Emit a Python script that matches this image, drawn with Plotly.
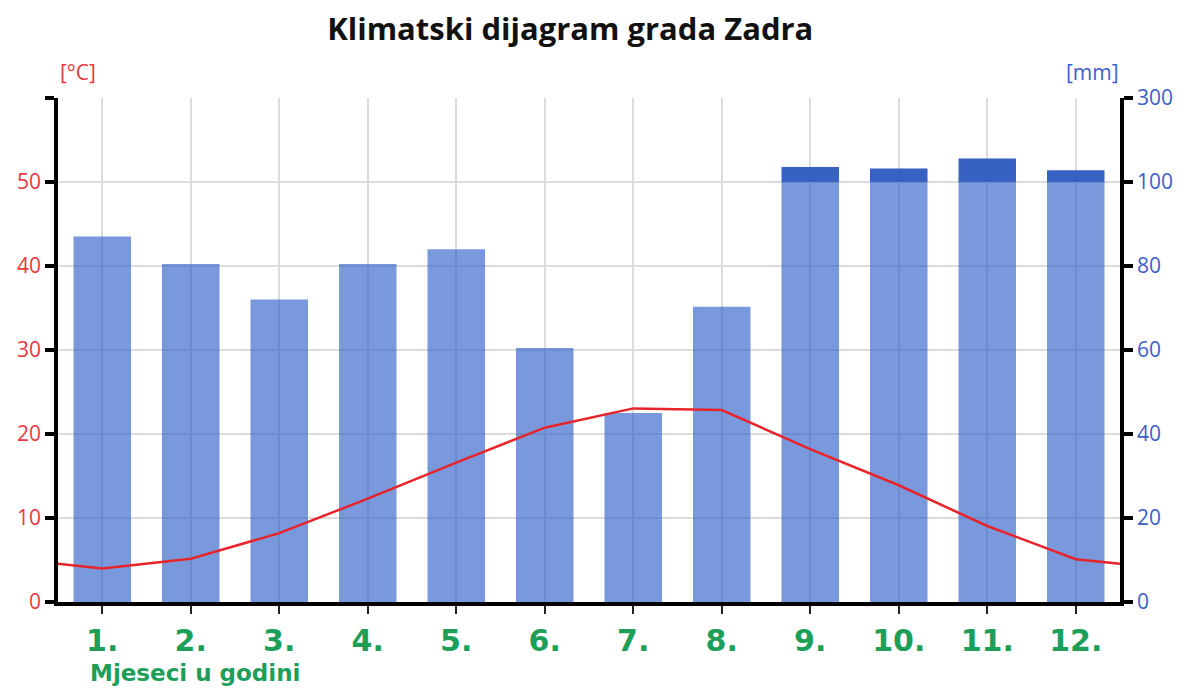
import plotly.graph_objects as go

# ---- data ----
months = [1, 2, 3, 4, 5, 6, 7, 8, 9, 10, 11, 12]
month_labels = ["1.", "2.", "3.", "4.", "5.", "6.", "7.", "8.", "9.", "10.", "11.", "12."]
temperature_c = [4.0, 5.15, 8.2, 12.3, 16.6, 20.75, 23.05, 22.85, 18.2, 13.9, 9.05, 5.1]
precip_mm = [87, 80.5, 72, 80.5, 84, 60.5, 45, 70.3, 136, 132, 156, 128]

temp_ticks = [0, 10, 20, 30, 40, 50, 60]
temp_ticktext = ["0", "10", "20", "30", "40", "50", ""]
mm_ticks = [0, 20, 40, 60, 80, 100, 120]
mm_ticktext = ["0", "20", "40", "60", "80", "100", "300"]

# ---- styles ----
RED = "#e8393f"
BLUE = "#3c5fcc"
GREEN = "#1d9f5a"
LIGHT_BAR = "rgba(40,90,200,0.62)"
DARK_BAR = "rgba(40,85,190,0.93)"
FONT = "Open Sans"
WIDE = "DejaVu Sans"

# precipitation: up to 100 mm at normal scale, above 100 mm compressed (200 mm per 20 units)
low_part = [min(p, 100) for p in precip_mm]
high_part = [(p - 100) / 10 if p > 100 else 0 for p in precip_mm]

# temperature line continues to plot edges (mean of December and January)
edge = (temperature_c[0] + temperature_c[-1]) / 2
line_x = [0.5] + months + [12.5]
line_y = [edge] + temperature_c + [edge]

fig = go.Figure()
fig.add_trace(go.Bar(x=months, y=low_part, yaxis="y", width=0.65,
                     marker=dict(color=LIGHT_BAR, line=dict(width=0)),
                     hoverinfo="skip", showlegend=False))
fig.add_trace(go.Bar(x=months, y=high_part, base=[100] * 12, yaxis="y", width=0.65,
                     marker=dict(color=DARK_BAR, line=dict(width=0)),
                     hoverinfo="skip", showlegend=False))
fig.add_trace(go.Scatter(x=line_x, y=line_y, mode="lines", yaxis="y2",
                         line=dict(color="#e8242b", width=2.5),
                         hoverinfo="skip", showlegend=False))

# page body has an 8px margin; positions below are page pixels minus that offset
OFF = 8
W, H = 1181, 689
PX0, PX1, PY0, PY1 = 57.5 - OFF, 1120 - OFF, 98 - OFF, 602 - OFF
L, T = PX0, PY0
R, B = W - PX1, H - PY1
PW, PH = PX1 - PX0, PY1 - PY0


def px(x):
    return (x - OFF - PX0) / PW


def py(y):
    return (PY1 - (y - OFF)) / PH


fig.update_layout(
    width=W, height=H,
    margin=dict(l=L, r=R, t=T, b=B, autoexpand=False),
    paper_bgcolor="white", plot_bgcolor="white",
    barmode="overlay",
    font=dict(family=FONT),
    title=dict(text="<b>Klimatski dijagram grada Zadra</b>", x=px(570), xref="paper",
               xanchor="center", y=1 - (29 - OFF) / H, yanchor="middle",
               font=dict(size=31, color="#111111", family=FONT)),
    xaxis=dict(range=[0.5, 12.5], tickvals=months, ticktext=month_labels,
               tickfont=dict(size=30, color=GREEN, family=WIDE, weight="bold"),
               ticks="outside", ticklen=8, tickwidth=2, tickcolor="#222",
               ticklabelstandoff=1, automargin=False,
               showline=True, linecolor="black", linewidth=3.5,
               showgrid=True, gridcolor="#dcdcdc", gridwidth=1.5, zeroline=False),
    yaxis=dict(range=[0, 120], tickvals=mm_ticks, ticktext=mm_ticktext,
               side="right", automargin=False,
               tickfont=dict(size=21, color=BLUE, family=FONT),
               ticks="outside", ticklen=9, tickwidth=3.5, tickcolor="black",
               showline=True, linecolor="black", linewidth=3.5,
               showgrid=True, gridcolor="#dcdcdc", gridwidth=1.5, zeroline=False),
    yaxis2=dict(range=[0, 60], tickvals=temp_ticks, ticktext=temp_ticktext,
                overlaying="y", side="left", automargin=False,
                tickfont=dict(size=21, color=RED, family=FONT),
                ticks="outside", ticklen=9, tickwidth=3.5, tickcolor="black",
                showline=True, linecolor="black", linewidth=3.5,
                showgrid=False, zeroline=False),
    annotations=[
        dict(text="[°C]", xref="paper", yref="paper", x=px(78), y=py(72),
             showarrow=False, xanchor="center", yanchor="middle",
             font=dict(size=21, color=RED, family=FONT)),
        dict(text="[mm]", xref="paper", yref="paper", x=px(1092), y=py(72),
             showarrow=False, xanchor="center", yanchor="middle",
             font=dict(size=21, color=BLUE, family=FONT)),
        dict(text="<b>Mjeseci u godini</b>", xref="paper", yref="paper",
             x=px(88), y=py(673),
             showarrow=False, xanchor="left", yanchor="middle",
             font=dict(size=23, color=GREEN, family=WIDE)),
    ],
)

fig.write_html("out.html")
